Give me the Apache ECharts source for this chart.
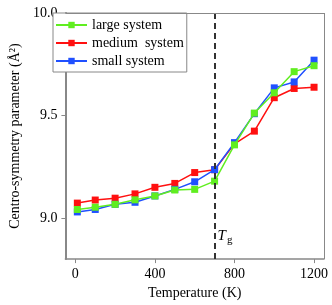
<!DOCTYPE html>
<html><head><meta charset="utf-8">
<script src="https://cdn.jsdelivr.net/npm/echarts@6/dist/echarts.min.js"></script>
<style>html,body{margin:0;padding:0;background:#fff}#c{width:332px;height:305px}</style>
</head><body><div id="c"></div>
<script>
const temps = [10, 100, 200, 300, 400, 500, 600, 700, 800, 900, 1000, 1100, 1200];
const largeSys = [9.042, 9.053, 9.067, 9.089, 9.108, 9.137, 9.140, 9.180, 9.357, 9.512, 9.611, 9.714, 9.743];
const mediumSys = [9.073, 9.088, 9.097, 9.118, 9.150, 9.169, 9.222, 9.236, 9.362, 9.424, 9.587, 9.632, 9.638];
const smallSys = [9.030, 9.042, 9.067, 9.077, 9.108, 9.140, 9.177, 9.236, 9.368, 9.509, 9.635, 9.664, 9.770];
const xTicks = [0, 400, 800, 1200];
const yTicks = [9.0, 9.5, 10.0];
const tg = 700;
const seriesNames = ['large system', 'medium  system', 'small system'];

const font = 'Liberation Serif';
const chart = echarts.init(document.getElementById('c'));
function mk(name, vals, color, z) {
  return {
    name, type: 'line', data: temps.map((t, i) => [t, vals[i]]),
    symbol: 'rect', symbolSize: 7, z,
    lineStyle: { color, width: 1.5 }, itemStyle: { color },
  };
}
chart.setOption({
  animation: false,
  textStyle: { fontFamily: font },
  grid: { left: 52, right: 8, top: 13, bottom: 41 },
  legend: {
    data: seriesNames, orient: 'vertical', left: 53, top: 13,
    itemWidth: 31, itemHeight: 8, itemGap: 4,
    borderColor: '#888', borderWidth: 1, padding: [5, 3, 4, 2], backgroundColor: '#fff',
    textStyle: { fontFamily: font, fontSize: 14, color: '#000' }
  },
  xAxis: {
    type: 'value', min: -50, max: 1250, interval: 50,
    axisLine: { onZero: false, lineStyle: { color: '#888', width: 1.5 } },
    axisTick: { show: true, customValues: xTicks, length: 4, lineStyle: { color: '#888' } },
    axisLabel: { customValues: xTicks, formatter: v => String(v), fontFamily: font, fontSize: 14, color: '#000' },
    splitLine: { show: false },
    name: 'Temperature (K)', nameLocation: 'middle', nameGap: 25,
    nameTextStyle: { fontFamily: font, fontSize: 14, color: '#000' }
  },
  yAxis: {
    type: 'value', min: 8.8, max: 10.0, interval: 0.1,
    axisLine: { show: true, onZero: false, lineStyle: { color: '#888', width: 2 } },
    axisTick: { show: true, customValues: yTicks, length: 4, lineStyle: { color: '#888' } },
    axisLabel: { customValues: yTicks, formatter: v => v.toFixed(1), fontFamily: font, fontSize: 14, color: '#000' },
    splitLine: { show: false },
    name: 'Centro-symmetry parameter (Å²)', nameLocation: 'middle', nameGap: 35,
    nameTextStyle: { fontFamily: font, fontSize: 14, color: '#000' }
  },
  series: [
    mk(seriesNames[1], mediumSys, '#ff1010', 2),
    mk(seriesNames[2], smallSys, '#2050ff', 3),
    mk(seriesNames[0], largeSys, '#60ee20', 4),
    {
      type: 'line', data: [], silent: true,
      markLine: {
        symbol: 'none', silent: true,
        lineStyle: { color: '#333', width: 2, type: [6, 4] },
        label: { show: false },
        data: [{ xAxis: tg }]
      },
      markPoint: {
        symbol: 'rect', symbolSize: 0,
        label: {
          show: true, formatter: '{t|T}{s|g}', position: 'right', distance: 3,
          rich: { t: { fontFamily: font, fontStyle: 'italic', fontSize: 15, color: '#000' },
                  s: { fontFamily: font, fontSize: 11, color: '#000', verticalAlign: 'bottom', padding: [8, 0, 0, 1] } }
        },
        data: [{ coord: [tg, 8.91] }]
      }
    },
    {
      type: 'line', data: [], silent: true,
      markLine: { symbol: 'none', silent: true, label: { show: false },
        lineStyle: { color: '#888', width: 1, type: 'solid' },
        data: [{ yAxis: 10.0 }, { xAxis: 1250 }] }
    }
  ]
});
</script></body></html>
